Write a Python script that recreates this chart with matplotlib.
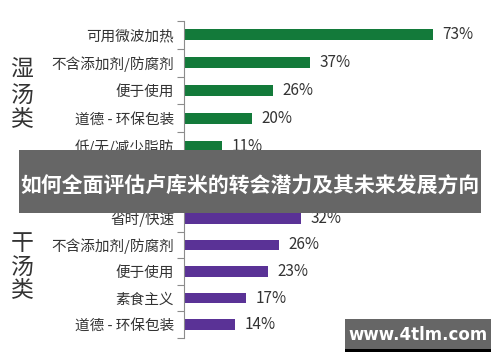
import matplotlib
matplotlib.use("Agg")
import matplotlib.pyplot as plt
from matplotlib.patches import Rectangle

plt.rcParams['font.family'] = ['Noto Sans CJK SC', 'DejaVu Sans']

# data
wet_labels = ["可用微波加热", "不含添加剂/防腐剂", "便于使用", "道德 - 环保包装", "低/无/减少脂肪"]
wet_values = [73, 37, 26, 20, 11]
dry_labels = ["省时/快速", "不含添加剂/防腐剂", "便于使用", "素食主义", "道德 - 环保包装"]
dry_values = [32, 26, 23, 17, 14]

title = "如何全面评估卢库米的转会潜力及其未来发展方向"
watermark = "www.4tlm.com"

W, H = 500, 362
fig = plt.figure(figsize=(5, 3.62), dpi=100)
fig.patch.set_facecolor("white")


def px_axes(x0, y_top, width, height):
    # place an axes using pixel coordinates measured from the top-left
    return fig.add_axes([x0 / W, (H - y_top - height) / H, width / W, height / H])


def draw_group(ax, labels, values, color):
    pos = list(range(len(values)))
    ax.barh(pos, values, height=0.4, color=color)
    ax.set_xlim(0, 100)
    ax.set_ylim(len(values) - 0.5, -0.5)
    ax.set_yticks(pos)
    ax.set_yticklabels(labels, fontsize=10.5, color="#333333")
    ax.tick_params(axis="y", which="major", length=0, pad=7)
    ax.set_yticks([p - 0.5 for p in pos] + [len(values) - 0.5], minor=True)
    ax.tick_params(axis="y", which="minor", length=5, width=0.8, color="#8c8c8c", direction="out")
    ax.set_xticks([])
    for s in ["top", "right", "bottom"]:
        ax.spines[s].set_visible(False)
    ax.spines["left"].set_color("#8c8c8c")
    ax.spines["left"].set_linewidth(0.8)
    for p, v in zip(pos, values):
        ax.annotate(f"{v}%", (v, p), xytext=(7, 0), textcoords="offset points",
                    va="center", ha="left", fontsize=11, color="#333333")


ax1 = px_axes(184, 21, 341, 139)
draw_group(ax1, wet_labels, wet_values, "#137a3a")

ax2 = px_axes(184, 205, 365, 133)
draw_group(ax2, dry_labels, dry_values, "#5a3296")

# group labels
for ch, y in zip("湿汤类", [70, 95, 119]):
    fig.text(22 / W, 1 - y / H, ch, fontsize=16.5, ha="center", va="center", color="#333333")
for ch, y in zip("干汤类", [243, 267, 290]):
    fig.text(22 / W, 1 - y / H, ch, fontsize=16.5, ha="center", va="center", color="#333333")

# banner
fig.patches.append(Rectangle((19 / W, 1 - 213 / H), 462 / W, 63 / H, transform=fig.transFigure,
                             facecolor="#666666", edgecolor="none", zorder=10))
fig.text(250 / W, 1 - 185 / H, title, fontsize=15, fontweight="bold", color="white",
         ha="center", va="center", zorder=11)

# watermark
fig.patches.append(Rectangle((345 / W, 1 - 349 / H), 146 / W, 30 / H, transform=fig.transFigure,
                             facecolor="#666666", edgecolor="none", zorder=10))
fig.patches.append(Rectangle((345 / W, 1 - 352 / H), 146 / W, 3 / H, transform=fig.transFigure,
                             facecolor="black", edgecolor="none", zorder=10))
fig.text(418 / W, 1 - 335 / H, watermark, fontsize=12, fontweight="bold", color="white",
         family="DejaVu Sans", ha="center", va="center", zorder=11)

fig.savefig("out.png", dpi=100)
